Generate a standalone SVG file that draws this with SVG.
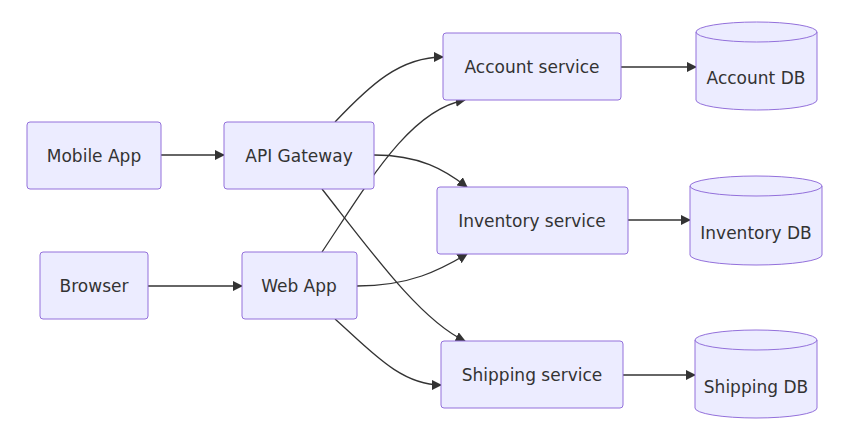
<svg xmlns="http://www.w3.org/2000/svg" width="867" height="426" viewBox="0 0 867 426">
<defs>
<marker id="arr" viewBox="0 0 10 10" refX="9" refY="5" markerWidth="8" markerHeight="8" orient="auto"><path d="M0,0 L10,5 L0,10 z" fill="#333"/></marker>
</defs>
<style>
.n{fill:#ECECFF;stroke:#9370DB;stroke-width:1}
.t{font-family:"DejaVu Sans",sans-serif;font-size:17px;fill:#333;text-anchor:middle;dominant-baseline:central}
.e{fill:none;stroke:#333;stroke-width:1.3;marker-end:url(#arr)}
</style>
<rect width="867" height="426" fill="#fff"/>
<g id="edges">
<path class="e" d="M161,155 L224,155"/>
<path class="e" d="M148,286 L242,286"/>
<path class="e" d="M335,122 C370,85 400,57 443,57"/>
<path class="e" d="M374,155 C420,155 445,170 467,187"/>
<path class="e" d="M322,189 C370,250 420,320 465,341"/>
<path class="e" d="M322,252 C370,180 410,110 465,100"/>
<path class="e" d="M357,286 C410,286 440,270 467,254"/>
<path class="e" d="M335,319 C370,350 400,385 441,385"/>
<path class="e" d="M621,67 L696,67"/>
<path class="e" d="M628,220 L690,220"/>
<path class="e" d="M623,375 L695,375"/>
</g>
<g id="mobile"><rect class="n" x="27" y="122" width="134" height="67" rx="3"/><text class="t" x="94" y="156">Mobile App</text></g>
<g id="gateway"><rect class="n" x="224" y="122" width="150" height="67" rx="3"/><text class="t" x="299" y="156">API Gateway</text></g>
<g id="browser"><rect class="n" x="40" y="252" width="108" height="67" rx="3"/><text class="t" x="94" y="286">Browser</text></g>
<g id="webapp"><rect class="n" x="242" y="252" width="115" height="67" rx="3"/><text class="t" x="299" y="286">Web App</text></g>
<g id="account"><rect class="n" x="443" y="33" width="178" height="67" rx="3"/><text class="t" x="532" y="67">Account service</text></g>
<g id="inventory"><rect class="n" x="437" y="187" width="191" height="67" rx="3"/><text class="t" x="532" y="221">Inventory service</text></g>
<g id="shipping"><rect class="n" x="441" y="341" width="182" height="67" rx="3"/><text class="t" x="532" y="375">Shipping service</text></g>
<g id="accountdb"><path class="n" d="M696,32 a60.5,10 0 0 0 121,0 a60.5,10 0 0 0 -121,0 l0,68 a60.5,10 0 0 0 121,0 l0,-68"/><text class="t" x="756" y="78">Account DB</text></g>
<g id="inventorydb"><path class="n" d="M690,186 a66,10 0 0 0 132,0 a66,10 0 0 0 -132,0 l0,69 a66,10 0 0 0 132,0 l0,-69"/><text class="t" x="756" y="233">Inventory DB</text></g>
<g id="shippingdb"><path class="n" d="M695,340 a61,10 0 0 0 122,0 a61,10 0 0 0 -122,0 l0,68 a61,10 0 0 0 122,0 l0,-68"/><text class="t" x="756" y="387">Shipping DB</text></g>
</svg>
